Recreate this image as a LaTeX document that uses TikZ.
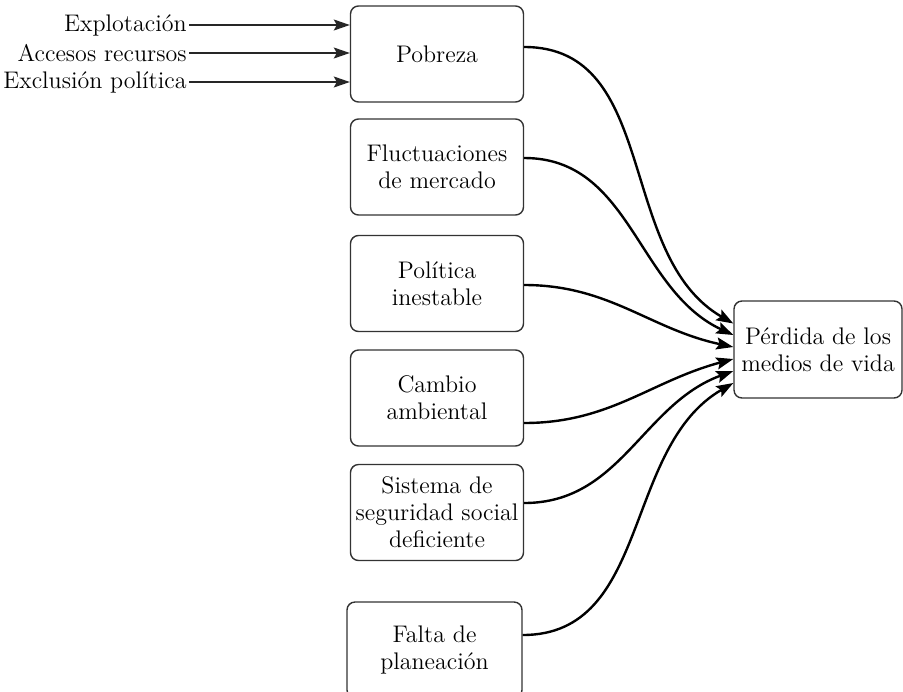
\documentclass[tikz,border=0pt]{standalone}
\usetikzlibrary{arrows.meta}
\tikzset{
caja/.style={draw=black!80, line width=0.7pt, rounded corners=4pt,
  minimum width=86.5pt, minimum height=48pt, align=center, inner sep=1pt,
  font=\fontsize{12}{13.5}\selectfont},
causa/.style={anchor=east, inner sep=1pt, font=\fontsize{12}{13.5}\selectfont},
flecha/.style={-{Stealth[length=8pt,width=5.5pt,inset=1.5pt]}, line width=0.6pt, black!85},
conector/.style={-{Stealth[length=8.5pt,width=6pt,inset=1.5pt]}, line width=1.2pt}
}

\begin{document}
\begin{tikzpicture}[x=0.5pt,y=-0.5pt]
\useasboundingbox (0,0) rectangle (903,691);
\node[caja] (pobreza) at (437,54) {Pobreza};
\node[caja] (fluct) at (437,167) {Fluctuaciones\\de mercado};
\node[caja] (politica) at (437,283.5) {Política\\inestable};
\node[caja] (cambio) at (437,398) {Cambio\\ambiental};
\node[caja] (sistema) at (437,512.5) {Sistema de\\seguridad social\\deficiente};
\node[caja, minimum width=87.5pt] (falta) at (434.5,650) {Falta de\\planeación};
\node[caja, minimum width=84pt, minimum height=48.5pt] (perdida) at (818,349.5) {Pérdida de los\\medios de vida};
% causas de la pobreza
\foreach \n/\t/\y in {expl/Explotación/25,acceso/Accesos recursos/53,exclu/Exclusión política/82}{
\node[causa] (\n) at (189,\y) {\t};
\draw[flecha] (\n.east) -- (\n.east -| pobreza.west);}
% hacia la perdida
\foreach \src/\dy/\tdy/\ang in {pobreza/3.5/13/150,fluct/4.5/7.25/155,politica/-0.75/1.25/168,cambio/-12.5/-4.75/195,sistema/4.75/-10.75/200,falta/7.5/-16.75/210}{
\draw[conector] ([yshift=\dy pt]\src.east) to[out=0,in=\ang] ([yshift=\tdy pt]perdida.west);}
\end{tikzpicture}
\end{document}
